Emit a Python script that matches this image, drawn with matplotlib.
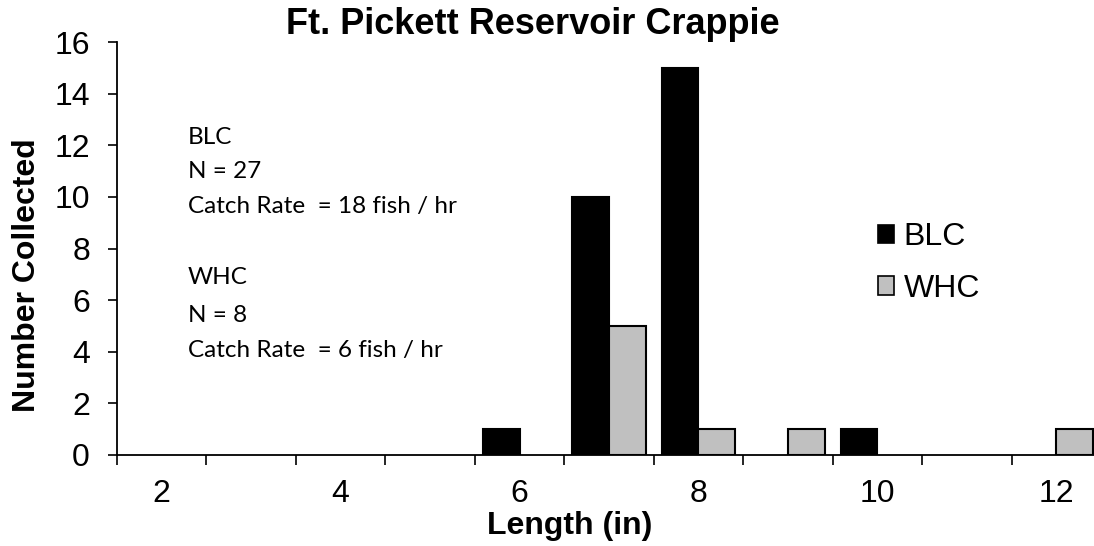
import matplotlib
matplotlib.use("Agg")
import matplotlib.pyplot as plt
from matplotlib.patches import Patch
import numpy as np

# lengths (in) and counts
lengths = [2, 3, 4, 5, 6, 7, 8, 9, 10, 11, 12]
blc = [0, 0, 0, 0, 1, 10, 15, 0, 1, 0, 0]
whc = [0, 0, 0, 0, 0, 5, 1, 1, 0, 0, 1]
tick_labels = ["2", "", "4", "", "6", "", "8", "", "10", "", "12"]

plt.rcParams['font.family'] = ['Liberation Sans', 'DejaVu Sans']

W, H = 1094, 546
fig = plt.figure(figsize=(W / 100, H / 100), dpi=100)
ax = fig.add_axes([117 / W, 1 - 455 / H, (1101 - 117) / W, (455 - 42) / H])

x = np.arange(len(lengths))
bw = 0.41
# no outline on empty bins
ax.bar(x - bw / 2, blc, bw, color='black', edgecolor='black',
       linewidth=[1.5 if v else 0 for v in blc])
ax.bar(x + bw / 2, whc, bw, color='#c0c0c0', edgecolor='black',
       linewidth=[1.5 if v else 0 for v in whc])

ax.set_xlim(-0.5, len(lengths) - 0.5)
ax.set_ylim(0, 16)
ax.set_yticks(range(0, 17, 2))
ax.set_xticks(x)
ax.set_xticklabels(tick_labels)
ax.set_xticks(np.arange(len(lengths) + 1) - 0.5, minor=True)
ax.tick_params(axis='x', which='major', length=0, pad=17, labelsize=23)
ax.tick_params(axis='x', which='minor', length=7, width=1.2, direction='out')
ax.tick_params(axis='y', length=6.5, width=1.2, direction='out', pad=13, labelsize=23)

for s in ['top', 'right']:
    ax.spines[s].set_visible(False)
for s in ['left', 'bottom']:
    ax.spines[s].set_linewidth(1.3)

ax.set_xlabel('Length (in)', fontsize=23, fontweight='bold')
ax.set_ylabel('Number Collected', fontsize=23, fontweight='bold')
ax.xaxis.set_label_coords((570 - 117) / 984, (455 - 511) / 413)
ax.yaxis.set_label_coords((42 - 117) / 984, (455 - 275) / 413)
fig.text(533 / W, 1 - 24 / H, 'Ft. Pickett Reservoir Crappie', fontsize=26,
         fontweight='bold', ha='center', va='center')

notes = [("BLC", 137), ("N = 27", 172), ("Catch Rate  = 18 fish / hr", 207),
         ("WHC", 278), ("N = 8", 315), ("Catch Rate  = 6 fish / hr", 350)]
for txt, yy in notes:
    fig.text(188 / W, 1 - yy / H, txt, fontsize=17.5, family=['Lato', 'DejaVu Sans'],
             ha='left', va='center')

handles = [Patch(facecolor='black', edgecolor='black', linewidth=1.2, label='BLC'),
           Patch(facecolor='#c0c0c0', edgecolor='black', linewidth=1.2, label='WHC')]
ax.legend(handles=handles, loc='center left',
          bbox_to_anchor=((878 - 117) / 984, (455 - 263) / 413),
          frameon=False, fontsize=23, handlelength=0.5, handleheight=0.5,
          handletextpad=0.3, labelspacing=0.68, borderpad=0, borderaxespad=0)

fig.savefig('out.png', dpi=100)
